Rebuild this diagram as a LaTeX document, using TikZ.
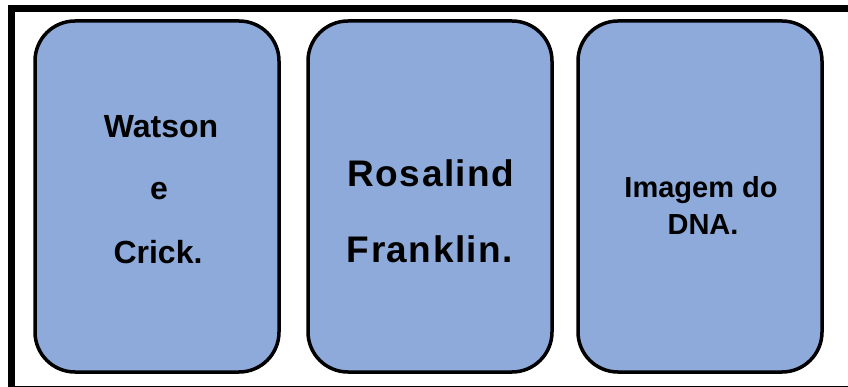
\documentclass[tikz,border=0pt]{standalone}
\usepackage{fontspec}
\setmainfont{Liberation Sans}
\newfontfamily\rosfont[LetterSpace=4]{Liberation Sans}
\definecolor{boxfill}{RGB}{141,170,218}
\begin{document}
\begin{tikzpicture}[x=1pt,y=-1pt,
  card/.style={draw=black, line width=3.5pt, fill=boxfill, rounded corners=40pt},
  lbl/.style={anchor=base, inner sep=0pt, font=\bfseries}]
\useasboundingbox (0,0) rectangle (848,387);
\begin{scope}
\clip (0,0) rectangle (848,387);
\draw[line width=7pt] (11.5,8.5) rectangle (860,389);
\end{scope}
\draw[card] (35,21) rectangle (279,372);
\draw[card] (308,21) rectangle (552,372);
\draw[card] (578,21) rectangle (822,372);
% box 1
\node[lbl, font=\fontsize{32}{32}\selectfont\bfseries] (w1) at (161,138) {Watson};
\node[lbl, font=\fontsize{32}{32}\selectfont\bfseries] (w2) at (159,200) {e};
\node[lbl, font=\fontsize{32}{32}\selectfont\bfseries] (w3) at (158,263) {Crick.};
% box 2
\node[lbl, font=\fontsize{37}{37}\selectfont\rosfont\bfseries] (r1) at (431,187) {Rosalind};
\node[lbl, font=\fontsize{37}{37}\selectfont\rosfont\bfseries] (r2) at (430,262) {Franklin.};
% box 3
\node[lbl, font=\fontsize{29}{29}\selectfont\bfseries] (d1) at (701,198) {Imagem do};
\node[lbl, font=\fontsize{29}{29}\selectfont\bfseries] (d2) at (703,235) {DNA.};
\end{tikzpicture}
\end{document}
